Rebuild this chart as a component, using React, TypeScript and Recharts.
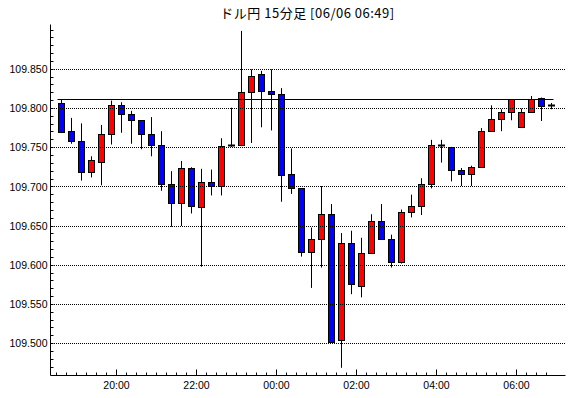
import React from "react";
import { ComposedChart, Bar, XAxis, YAxis, ReferenceLine } from "recharts";

const TITLE = "ドル円 15分足 [06/06 06:49]";

const TIMES = [
  "18:30","18:45","19:00","19:15","19:30","19:45",
  "20:00","20:15","20:30","20:45","21:00","21:15","21:30","21:45",
  "22:00","22:15","22:30","22:45","23:00","23:15","23:30","23:45",
  "00:00","00:15","00:30","00:45","01:00","01:15","01:30","01:45",
  "02:00","02:15","02:30","02:45","03:00","03:15","03:30","03:45",
  "04:00","04:15","04:30","04:45","05:00","05:15","05:30","05:45",
  "06:00","06:15","06:30","06:45",
];

const OPEN = [
  109.807,109.771,109.759,109.719,109.732,109.768,109.804,109.793,109.785,109.768,
  109.753,109.704,109.680,109.724,109.674,109.706,109.701,109.752,109.753,109.821,
  109.844,109.822,109.818,109.716,109.698,109.617,109.633,109.665,109.504,109.628,
  109.574,109.615,109.656,109.633,109.604,109.668,109.675,109.703,109.753,109.751,
  109.722,109.716,109.725,109.771,109.786,109.795,109.776,109.796,109.813,109.804,
];
const HIGH = [
  109.812,109.788,109.781,109.739,109.779,109.810,109.808,109.797,109.785,109.789,
  109.771,109.720,109.733,109.725,109.723,109.722,109.762,109.801,109.899,109.850,
  109.848,109.850,109.826,109.749,109.698,109.648,109.701,109.678,109.641,109.644,
  109.635,109.665,109.678,109.639,109.671,109.690,109.711,109.760,109.760,109.751,
  109.724,109.727,109.775,109.804,109.799,109.812,109.800,109.816,109.814,109.807,
];
const LOW = [
  109.770,109.755,109.708,109.712,109.702,109.754,109.769,109.755,109.748,109.739,
  109.695,109.649,109.650,109.666,109.598,109.689,109.689,109.751,109.752,109.756,
  109.776,109.772,109.681,109.691,109.611,109.571,109.597,109.501,109.469,109.563,
  109.559,109.615,109.633,109.597,109.602,109.661,109.664,109.698,109.731,109.707,
  109.701,109.701,109.725,109.771,109.771,109.785,109.775,109.795,109.784,109.799,
];
const CLOSE = [
  109.770,109.759,109.719,109.734,109.768,109.804,109.793,109.785,109.768,109.753,
  109.704,109.680,109.724,109.675,109.706,109.701,109.752,109.753,109.821,109.842,
  109.822,109.818,109.715,109.698,109.617,109.633,109.665,109.502,109.628,109.576,
  109.615,109.656,109.633,109.604,109.668,109.675,109.703,109.753,109.752,109.722,
  109.716,109.725,109.771,109.786,109.795,109.812,109.796,109.812,109.803,109.804,
];

const LEVEL = 109.812;
const LEVEL_FROM = -0.4;
const LEVEL_TO = 49.2;

const Y_LABELS = [109.5, 109.55, 109.6, 109.65, 109.7, 109.75, 109.8, 109.85];
const X_LABELS = ["20:00", "22:00", "00:00", "02:00", "04:00", "06:00"];

const Y_DOMAIN = [109.4592, 109.9072];
const X_DOMAIN = [-1.1, 50.4];

const data = TIMES.map((t, i) => ({
  i,
  time: t,
  open: OPEN[i],
  high: HIGH[i],
  low: LOW[i],
  close: CLOSE[i],
  range: [LOW[i], HIGH[i]],
}));

const Y_TICKS: number[] = [];
for (let k = 0; k <= 43; k++) Y_TICKS.push(Math.round((109.47 + k * 0.01) * 1000) / 1000);
const X_TICKS: number[] = TIMES.map((_, i) => i - 0.5);
const X_MAJOR = X_LABELS.map((l) => TIMES.indexOf(l) - 0.5);

const FONT = "'Liberation Sans', Arial, sans-serif";
const crisp = (v: number) => Math.round(v - 0.5) + 0.5;
const isYMajor = (v: number) => Y_LABELS.some((l) => Math.abs(l - v) < 1e-6);
const xLabelAt = (v: number) => {
  const k = X_MAJOR.findIndex((m) => Math.abs(m - v) < 1e-6);
  return k >= 0 ? X_LABELS[k] : null;
};

const LeftTick = (p: any) => {
  const { x, y, payload } = p;
  const yy = crisp(y);
  const major = isYMajor(payload.value);
  return (
    <g>
      <line x1={x} x2={x + 3} y1={yy} y2={yy} stroke="#000" />
      {major && (
        <text x={x - 3} y={y} dy={3.8} textAnchor="end" fontSize={10.5} fontFamily={FONT} fill="#000">
          {payload.value.toFixed(3)}
        </text>
      )}
    </g>
  );
};

const RightTick = (p: any) => {
  const { x, y } = p;
  const yy = crisp(y);
  return <line x1={x - 3} x2={x} y1={yy} y2={yy} stroke="#000" />;
};

const BottomTick = (p: any) => {
  const { x, y, payload } = p;
  const label = xLabelAt(payload.value);
  const xx = crisp(x);
  return (
    <g>
      <line x1={xx} x2={xx} y1={y} y2={y - (label ? 6 : 3)} stroke="#000" />
      {label && (
        <text x={x} y={y} dy={13.3} textAnchor="middle" fontSize={10.5} fontFamily={FONT} fill="#000">
          {label}
        </text>
      )}
    </g>
  );
};

const TopTick = (p: any) => {
  const { x, y, payload } = p;
  const label = xLabelAt(payload.value);
  const xx = crisp(x);
  return <line x1={xx} x2={xx} y1={y} y2={y + (label ? 6 : 3)} stroke="#000" />;
};

const Candle = (p: any) => {
  const { x, y, width, height, payload } = p;
  if (x == null || y == null) return null;
  const cx = crisp(x + width / 2);
  const top = Math.min(y, y + height);
  const bot = Math.max(y, y + height);
  const { high, low, open, close } = payload;
  const py = (v: number) => (high === low ? top : top + ((high - v) / (high - low)) * (bot - top));
  const oy = py(open);
  const cy = py(close);
  const bTop = Math.min(oy, cy);
  const bBot = Math.max(oy, cy);
  const up = close > open;
  const fill = up ? "#ff0000" : "#0000ff";
  const bh = bBot - bTop;
  return (
    <g>
      <line x1={cx} x2={cx} y1={top} y2={bot} stroke="#000" strokeWidth={1} />
      {bh >= 1.5 ? (
        <rect x={cx - 3} y={Math.round(bTop) + 0.5} width={6} height={Math.max(1, Math.round(bBot) - Math.round(bTop))} fill={fill} stroke="#000" strokeWidth={1} />
      ) : (
        <rect x={cx - 3.5} y={Math.round(bTop) - 0.5} width={7} height={2} fill="#000" />
      )}
    </g>
  );
};

const DotLine = (p: any) => {
  const y = crisp(p.y1);
  const x1 = Math.ceil(p.x1) + 1;
  const x2 = Math.floor(p.x2);
  return <line x1={x1} x2={x2} y1={y} y2={y} stroke="#000" strokeDasharray="1 1" shapeRendering="crispEdges" />;
};

const SolidLine = (p: any) => {
  const y = crisp(p.y1);
  return <line x1={p.x1} x2={p.x2} y1={y} y2={y} stroke="#000" strokeWidth={1} />;
};

export default function App() {
  return (
    <div style={{ position: "fixed", left: 0, top: 0, width: 570, height: 398, background: "#fff" }}>
      <div
        style={{
          position: "absolute",
          left: 0,
          top: 4,
          width: 615,
          textAlign: "center",
          fontFamily: "'Noto Sans CJK JP', sans-serif",
          fontSize: 13,
          letterSpacing: "0.5px",
          lineHeight: "17px",
          color: "#000",
        }}
      >
        {TITLE}
      </div>
      <ComposedChart width={570} height={398} data={data} margin={{ top: 24.5, right: 4.5, bottom: 0, left: 0 }}>
        <XAxis
          xAxisId="b"
          dataKey="i"
          type="number"
          orientation="bottom"
          domain={X_DOMAIN}
          allowDataOverflow
          ticks={X_TICKS}
          interval={0}
          height={22.5}
          tickSize={0}
          tickMargin={0}
          tickLine={false}
          axisLine={{ stroke: "#000" }}
          tick={<BottomTick />}
        />
        <XAxis
          xAxisId="t"
          dataKey="i"
          type="number"
          orientation="top"
          domain={X_DOMAIN}
          allowDataOverflow
          ticks={X_TICKS}
          interval={0}
          height={0}
          tickSize={0}
          tickMargin={0}
          tickLine={false}
          axisLine={{ stroke: "#000" }}
          tick={<TopTick />}
        />
        <YAxis
          yAxisId="l"
          type="number"
          orientation="left"
          domain={Y_DOMAIN}
          allowDataOverflow
          ticks={Y_TICKS}
          interval={0}
          width={50.5}
          tickSize={0}
          tickMargin={0}
          tickLine={false}
          axisLine={{ stroke: "#000" }}
          tick={<LeftTick />}
        />
        <YAxis
          yAxisId="r"
          type="number"
          orientation="right"
          domain={Y_DOMAIN}
          allowDataOverflow
          ticks={Y_TICKS}
          interval={0}
          width={0}
          tickSize={0}
          tickMargin={0}
          tickLine={false}
          axisLine={{ stroke: "#000" }}
          tick={<RightTick />}
        />
        {Y_LABELS.map((v) => (
          <ReferenceLine key={v} xAxisId="b" yAxisId="l" y={v} shape={<DotLine />} />
        ))}
        <ReferenceLine
          xAxisId="b"
          yAxisId="l"
          segment={[
            { x: LEVEL_FROM, y: LEVEL },
            { x: LEVEL_TO, y: LEVEL },
          ]}
          shape={<SolidLine />}
        />
        <Bar xAxisId="b" yAxisId="l" dataKey="range" barSize={8} shape={<Candle />} isAnimationActive={false} />
      </ComposedChart>
    </div>
  );
}
